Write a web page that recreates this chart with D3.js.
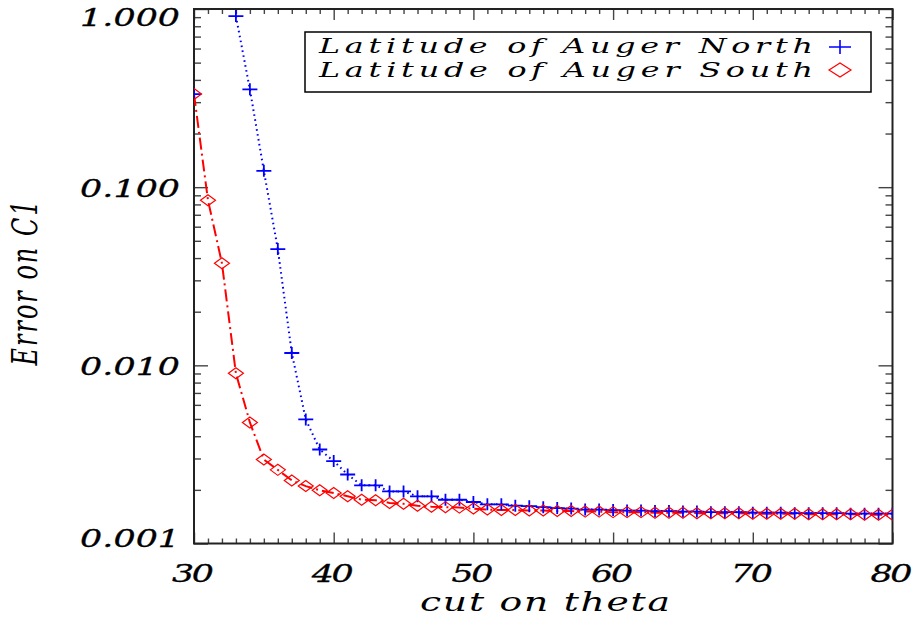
<!DOCTYPE html>
<html>
<head>
<meta charset="utf-8">
<script src="https://cdn.jsdelivr.net/npm/d3@7"></script>
<style>
  html, body { margin: 0; padding: 0; background: #fff; }
  svg { display: block; }
  text { font-family: "DejaVu Serif", "Liberation Serif", serif; font-style: italic; fill: #000; }
</style>
</head>
<body>
<svg id="chart" width="916" height="619"></svg>
<script>
// ---- data ----
const cutTheta = [30,31,32,33,34,35,36,37,38,39,40,41,42,43,44,45,46,47,48,49,50,
  51,52,53,54,55,56,57,58,59,60,61,62,63,64,65,66,67,68,69,70,
  71,72,73,74,75,76,77,78,79,80];

const northErr = [0.333, null, null, 0.913, 0.354, 0.1235, 0.0449, 0.01173, 0.00497, 0.00337, 0.00290,
  0.00244, 0.00212, 0.00212, 0.00196, 0.00196, 0.00184, 0.00184, 0.00176, 0.00176, 0.00171,
  0.00166, 0.00166, 0.00163, 0.00162, 0.00160, 0.00158, 0.00157, 0.00155, 0.00155, 0.00154,
  0.00153, 0.00153, 0.00152, 0.00152, 0.00151, 0.00151, 0.00150, 0.00150, 0.00150, 0.00149,
  0.00149, 0.00149, 0.00148, 0.00148, 0.00148, 0.00148, 0.00147, 0.00147, 0.00147, 0.00147];

const southErr = [0.333, 0.0845, 0.0374, 0.00902, 0.00478, 0.00296, 0.00259, 0.00226, 0.00210, 0.00199, 0.00192,
  0.00184, 0.00176, 0.00175, 0.00169, 0.00167, 0.00163, 0.00161, 0.00160, 0.00159, 0.00157,
  0.00155, 0.00154, 0.00154, 0.00153, 0.00153, 0.00152, 0.00152, 0.00151, 0.00151, 0.00150,
  0.00150, 0.00150, 0.00149, 0.00149, 0.00149, 0.00148, 0.00148, 0.00148, 0.00148, 0.00147,
  0.00147, 0.00147, 0.00147, 0.00146, 0.00146, 0.00146, 0.00146, 0.00145, 0.00145, 0.00145];

const seriesNames = ["Latitude of Auger North", "Latitude of Auger South"];
const xMajorTicks = [30, 40, 50, 60, 70, 80];
const xTickLabels = ["30", "40", "50", "60", "70", "80"];
const yMajorTicks = [0.001, 0.01, 0.1, 1];
const yTickLabels = ["0.001", "0.010", "0.100", "1.000"];
const xTitle = "cut on theta";
const yTitle = "Error on C1";

// ---- layout ----
const L = 194, R = 892.5, T = 9, B = 543.5;
const svg = d3.select("#chart");
const x = d3.scaleLinear().domain([30, 80]).range([L, R]);
const y = d3.scaleLog().domain([0.001, 1]).range([B, T]);

const xMinor = d3.range(30, 81).filter(v => v % 10 !== 0);
const yMinor = [];
[0.001, 0.01, 0.1].forEach(d => { for (let k = 2; k <= 9; k++) yMinor.push(d * k); });

const tickColor = "#444";
function styleAxis(g) {
  g.select(".domain").remove();
  g.selectAll(".tick line").attr("stroke", tickColor).attr("stroke-width", 1.4);
  g.selectAll(".tick text").remove();
}

svg.append("g").attr("transform", `translate(0,${B})`)
  .call(d3.axisBottom(x).tickValues(xMajorTicks).tickSize(-11)).call(styleAxis);
svg.append("g").attr("transform", `translate(0,${B})`)
  .call(d3.axisBottom(x).tickValues(xMinor).tickSize(-5)).call(styleAxis);
svg.append("g").attr("transform", `translate(0,${T})`)
  .call(d3.axisTop(x).tickValues(xMajorTicks).tickSize(-11)).call(styleAxis);
svg.append("g").attr("transform", `translate(0,${T})`)
  .call(d3.axisTop(x).tickValues(xMinor).tickSize(-5)).call(styleAxis);
svg.append("g").attr("transform", `translate(${L},0)`)
  .call(d3.axisLeft(y).tickValues(yMajorTicks).tickSize(-14)).call(styleAxis);
svg.append("g").attr("transform", `translate(${L},0)`)
  .call(d3.axisLeft(y).tickValues(yMinor).tickSize(-7)).call(styleAxis);
svg.append("g").attr("transform", `translate(${R},0)`)
  .call(d3.axisRight(y).tickValues(yMajorTicks).tickSize(-14)).call(styleAxis);
svg.append("g").attr("transform", `translate(${R},0)`)
  .call(d3.axisRight(y).tickValues(yMinor).tickSize(-7)).call(styleAxis);

svg.append("rect").attr("x", L).attr("y", T).attr("width", R - L).attr("height", B - T)
  .attr("fill", "none").attr("stroke", "#222").attr("stroke-width", 2);

svg.append("clipPath").attr("id", "plotclip").append("rect")
  .attr("x", L).attr("y", T).attr("width", R - L).attr("height", B - T);
const plot = svg.append("g").attr("clip-path", "url(#plotclip)");

const north = cutTheta.map((c, i) => ({ c, v: northErr[i] }));
const south = cutTheta.map((c, i) => ({ c, v: southErr[i] }));
const line = d3.line().defined(d => d.v != null).x(d => x(d.c)).y(d => y(d.v));

const crossPath = "M-7.5,0H7.5M0,-6V6";
const diamondPath = "M-7.5,0L0,-5.5L7.5,0L0,5.5Z";

plot.append("path").datum(north).attr("d", line)
  .attr("fill", "none").attr("stroke", "#0000ff").attr("stroke-width", 2)
  .attr("stroke-dasharray", "1.6,3.4");
plot.append("path").datum(south).attr("d", line)
  .attr("fill", "none").attr("stroke", "#ff0000").attr("stroke-width", 2)
  .attr("stroke-dasharray", "12,4,2,4");

plot.selectAll(".cross").data(north.filter(d => d.v != null)).join("path")
  .attr("transform", d => `translate(${x(d.c)},${y(d.v)})`)
  .attr("d", crossPath).attr("fill", "none").attr("stroke", "#0000ff").attr("stroke-width", 1.8);
plot.selectAll(".diam").data(south).join("path")
  .attr("transform", d => `translate(${x(d.c)},${y(d.v)})`)
  .attr("d", diamondPath).attr("fill", "none").attr("stroke", "#ff0000").attr("stroke-width", 1.2);

// tick labels
const SX = 1.45;
const yLabelDy = [3, 9.5, 10, 16.5];
yMajorTicks.forEach((v, i) => {
  svg.append("text")
    .attr("transform", `translate(180,${y(v) + yLabelDy[i]}) scale(${SX},1)`)
    .attr("text-anchor", "end").attr("font-size", 24)
    .attr("textLength", 100 / SX).attr("lengthAdjust", "spacing")
    .attr("stroke", "#000").attr("stroke-width", 0.3)
    .text(yTickLabels[i]);
});
xMajorTicks.forEach((v, i) => {
  svg.append("text")
    .attr("transform", `translate(${x(v) - 1},582) scale(${SX},1)`)
    .attr("text-anchor", "middle").attr("font-size", 24)
    .attr("textLength", 42 / SX).attr("lengthAdjust", "spacing")
    .attr("stroke", "#000").attr("stroke-width", 0.3)
    .text(xTickLabels[i]);
});

// axis titles
svg.append("text")
  .attr("transform", `translate(545,611) scale(${SX},1)`)
  .attr("text-anchor", "middle").attr("font-size", 26)
  .attr("textLength", 250 / SX).attr("lengthAdjust", "spacing")
  .text(xTitle);
svg.append("text")
  .attr("transform", `translate(37,283) scale(${SX},1) rotate(-90)`)
  .attr("text-anchor", "middle").attr("font-size", 24)
  .attr("textLength", 165).attr("lengthAdjust", "spacing")
  .text(yTitle);

// legend
const LSX = 1.55;
const leg = svg.append("g");
leg.append("rect").attr("x", 305).attr("y", 32).attr("width", 566).attr("height", 60)
  .attr("fill", "#fff").attr("stroke", "#000").attr("stroke-width", 1.5);
const legRows = [
  { name: seriesNames[0], by: 53, sy: 47, sym: "M-11,0H11M0,-7V7", color: "#0000ff", sw: 1.6 },
  { name: seriesNames[1], by: 77, sy: 70, sym: "M-11,0L0,-7L11,0L0,7Z", color: "#ff0000", sw: 1.2 }
];
legRows.forEach(r => {
  leg.append("text")
    .attr("transform", `translate(319,${r.by}) scale(${LSX},1)`)
    .attr("font-size", 20.5)
    .attr("textLength", 494 / LSX).attr("lengthAdjust", "spacing")
    .text(r.name);
  leg.append("path").attr("transform", `translate(840,${r.sy})`)
    .attr("d", r.sym).attr("fill", "none").attr("stroke", r.color).attr("stroke-width", r.sw);
});
</script>
</body>
</html>
